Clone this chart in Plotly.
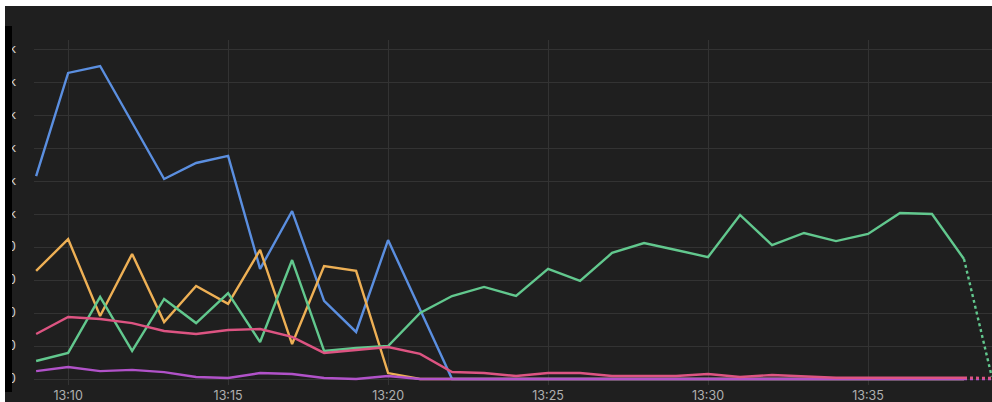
import plotly.graph_objects as go

# ---------------- data ----------------
times = [f"2024-01-01 13:{m:02d}:00" for m in range(9, 39)]   # 13:09 .. 13:38
tail_time = "2024-01-01 13:38:52"                              # partial last sample

blue = [1230, 1855, 1897, 1558, 1212, 1309, 1352, 667, 1018, 473, 285, 842, 418, 0,
        0, 0, 0, 0, 0, 0, 0, 0, 0, 0, 0, 0, 0, 0, 0, 0]
orange = [655, 848, 382, 758, 345, 564, 455, 782, 212, 685, 655, 36, 0, 0,
          0, 0, 0, 0, 0, 0, 0, 0, 0, 0, 0, 0, 0, 0, 0, 0]
green = [109, 158, 497, 170, 485, 339, 521, 224, 721, 170, 188, 200, 400, 503,
         558, 503, 667, 594, 764, 824, 782, 739, 994, 812, 885, 836, 879, 1006, 1000, 727]
pink = [273, 376, 364, 339, 291, 273, 297, 303, 255, 158, 176, 194, 152, 42,
        36, 18, 36, 36, 18, 18, 18, 30, 12, 24, 18, 8, 8, 8, 8, 8]
purple = [48, 73, 48, 55, 42, 12, 6, 36, 30, 6, 0, 18, 0, 0,
          0, 0, 0, 0, 0, 0, 0, 0, 0, 0, 0, 0, 0, 0, 0, 0]
tail = {"green": 15, "pink": 6, "purple": 0}

y_tickvals = [0, 200, 400, 600, 800, 1000, 1200, 1400, 1600, 1800, 2000]
y_ticktext = ["0", "200", "400", "600", "800", "1k", "1.2k", "1.4k", "1.6k", "1.8k", "2k"]

colors = {
    "blue": "#5b8fe0",
    "orange": "#eeb055",
    "green": "#62c88e",
    "pink": "#dd5482",
    "purple": "#b152c9",
}

# ---------------- figure ----------------
W, H = 992, 402
L, R, T, B = 34, 0, 40, 17
pw, ph = W - L - R, H - T - B


def px_x(p):
    return (p - L) / pw


def px_y(p):
    return (H - B - p) / ph


fig = go.Figure()
series = [("blue", blue), ("orange", orange), ("green", green), ("purple", purple), ("pink", pink)]
for name, vals in series:
    fig.add_trace(go.Scatter(x=times, y=vals, mode="lines", name=name,
                             line=dict(color=colors[name], width=2.4), showlegend=False,
                             hoverinfo="skip"))
    if name in tail:
        fig.add_trace(go.Scatter(x=[times[-1], tail_time], y=[vals[-1], tail[name]],
                                 mode="lines", line=dict(color=colors[name], width=2.4, dash="dot"),
                                 showlegend=False, hoverinfo="skip"))

# y-range so that 0 sits at pixel 379 and 2000 at pixel 49
units_per_px = 2000 / (379 - 49)
y_lo = -(H - B - 379) * units_per_px
y_hi = y_lo + ph * units_per_px

fig.update_layout(
    width=W, height=H,
    margin=dict(l=L, r=R, t=T, b=B, autoexpand=False),
    paper_bgcolor="#1f1f1f",
    plot_bgcolor="#1f1f1f",
    font=dict(family="Inter, sans-serif", size=12, color="#b0b0b0"),
    xaxis=dict(
        type="date",
        range=["2024-01-01 13:08:56", "2024-01-01 13:38:52.5"],
        dtick=5 * 60 * 1000,
        tick0="2024-01-01 13:00:00",
        tickformat="%H:%M",
        showgrid=True, gridcolor="#333333", gridwidth=1,
        zeroline=False, showline=False, ticks="",
        ticklabelstandoff=1,
        tickfont=dict(size=12.5),
        automargin=False,
    ),
    yaxis=dict(
        range=[y_lo, y_hi],
        tickvals=y_tickvals, ticktext=y_ticktext,
        showgrid=True, gridcolor="#333333", gridwidth=1,
        zeroline=False, showline=False, ticks="",
        ticklabelstandoff=17,
        tickfont=dict(color="#d0d0d0", size=12.5),
        automargin=False,
    ),
    shapes=[
        # white border strips of the screenshot
        dict(type="rect", xref="paper", yref="paper", x0=px_x(0), x1=px_x(W), y0=px_y(0), y1=px_y(6),
             fillcolor="white", line=dict(width=0), layer="above"),
        dict(type="rect", xref="paper", yref="paper", x0=px_x(0), x1=px_x(5), y0=px_y(0), y1=px_y(H),
             fillcolor="white", line=dict(width=0), layer="above"),
        # black bar covering the y-axis labels
        dict(type="rect", xref="paper", yref="paper", x0=px_x(5), x1=px_x(12), y0=px_y(26), y1=px_y(392),
             fillcolor="black", line=dict(width=0), layer="above"),
    ],
)

fig.write_html(
    "out.html",
    config={"displayModeBar": False, "staticPlot": True},
    post_script="document.body.style.margin='0';document.body.style.overflow='hidden';",
)
